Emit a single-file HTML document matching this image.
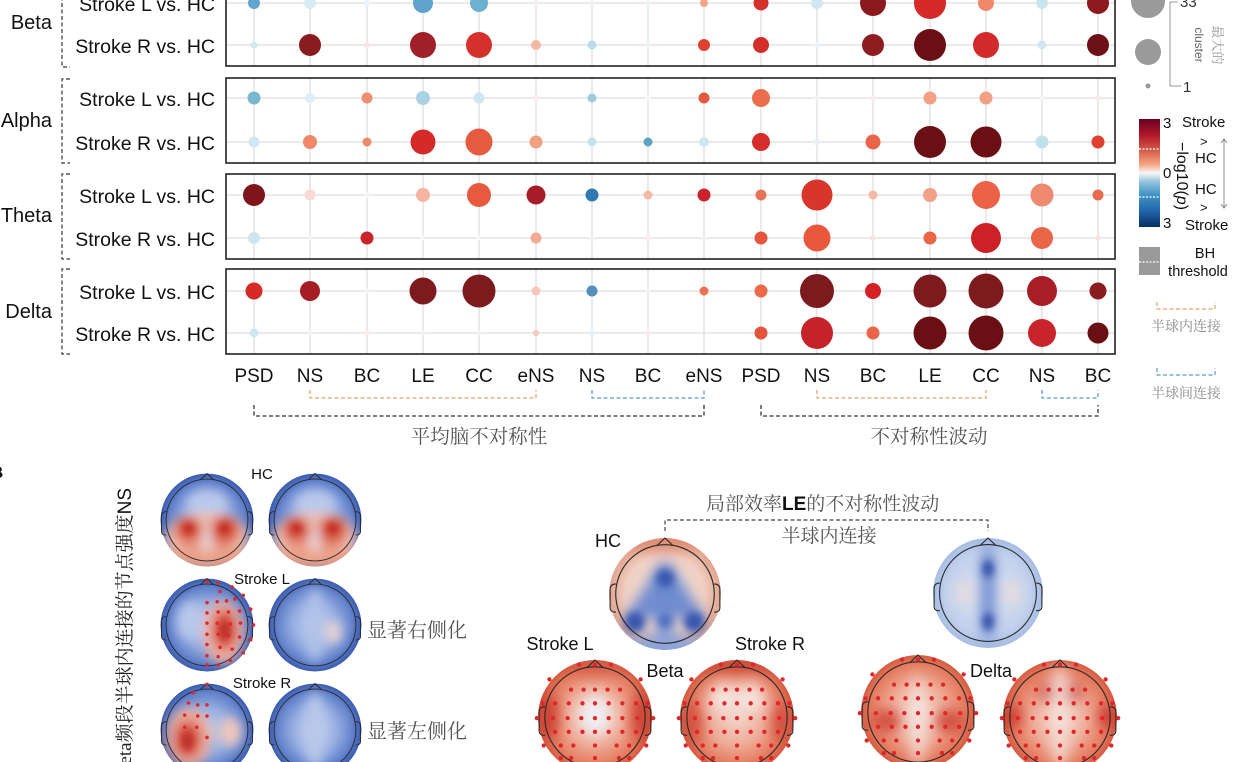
<!DOCTYPE html>
<html><head><meta charset="utf-8">
<style>
html,body{margin:0;padding:0;background:#fff;}
svg{display:block;}
text{font-family:"Liberation Sans","Noto Sans CJK SC",sans-serif;}
.cn{font-family:"Liberation Serif","Noto Serif CJK SC",serif;fill:#555;}
</style></head>
<body>
<svg width="1240" height="762" viewBox="0 0 1240 762" xmlns="http://www.w3.org/2000/svg">
<defs>
 <clipPath id="disc"><circle r="50"/></clipPath>
 <filter id="bl" x="-100%" y="-100%" width="300%" height="300%"><feGaussianBlur stdDeviation="6"/></filter>
 <filter id="bs" x="-100%" y="-100%" width="300%" height="300%"><feGaussianBlur stdDeviation="3.5"/></filter>
 <radialGradient id="gBlueL"><stop offset="0" stop-color="#c4d1ee"/><stop offset="0.5" stop-color="#93abe0"/><stop offset="0.8" stop-color="#6483cc"/><stop offset="1" stop-color="#3a5bb1"/></radialGradient>
 <radialGradient id="gPink"><stop offset="0" stop-color="#f4e3dc"/><stop offset="0.7" stop-color="#f0d0c3"/><stop offset="1" stop-color="#e3a48e"/></radialGradient>
 <radialGradient id="gRed"><stop offset="0" stop-color="#f3d5cb"/><stop offset="0.5" stop-color="#eeab96"/><stop offset="0.85" stop-color="#e47a5e"/><stop offset="1" stop-color="#d65a40"/></radialGradient>
 <radialGradient id="gBlueD"><stop offset="0" stop-color="#dde4f2"/><stop offset="0.75" stop-color="#c3d1ec"/><stop offset="1" stop-color="#a7bde4"/></radialGradient>
 <linearGradient id="cbar" x1="0" y1="0" x2="0" y2="1">
  <stop offset="0" stop-color="#67001f"/><stop offset="0.15" stop-color="#b2182b"/><stop offset="0.3" stop-color="#d6604d"/><stop offset="0.42" stop-color="#f4a582"/><stop offset="0.5" stop-color="#f7f7f7"/><stop offset="0.58" stop-color="#92c5de"/><stop offset="0.7" stop-color="#4393c3"/><stop offset="0.85" stop-color="#2166ac"/><stop offset="1" stop-color="#053061"/>
 </linearGradient>
 <g id="head" fill="none" stroke="#2a2a2a" stroke-width="1">
  <circle r="44"/>
  <path d="M-7,-43.4 L0,-50 L7,-43.4"/>
  <path d="M-43.8,-9 C-47,-9 -49,-7.5 -49,-4 L-49,12 C-49,15 -47,16.5 -43.8,16"/>
  <path d="M43.8,-9 C47,-9 49,-7.5 49,-4 L49,12 C49,15 47,16.5 43.8,16"/>
 </g>
 <g id="dots" fill="#e0262a">
  <circle cx="-14" cy="-46" r="1.9"/><circle cx="0" cy="-46" r="1.9"/><circle cx="14" cy="-46" r="1.9"/>
  <circle cx="-40" cy="-33" r="1.9"/><circle cx="40" cy="-33" r="1.9"/>
  <circle cx="-21" cy="-24" r="1.9"/><circle cx="-10" cy="-24" r="1.9"/><circle cx="0" cy="-24" r="1.9"/><circle cx="11" cy="-24" r="1.9"/><circle cx="22" cy="-24" r="1.9"/>
  <circle cx="-46" cy="-12" r="1.9"/><circle cx="-35" cy="-12" r="1.9"/><circle cx="-23" cy="-12" r="1.9"/><circle cx="-11" cy="-12" r="1.9"/><circle cx="0" cy="-12" r="1.9"/><circle cx="12" cy="-12" r="1.9"/><circle cx="24" cy="-12" r="1.9"/><circle cx="36" cy="-12" r="1.9"/><circle cx="46" cy="-12" r="1.9"/>
  <circle cx="-51" cy="1" r="1.9"/><circle cx="-37" cy="1" r="1.9"/><circle cx="-24" cy="1" r="1.9"/><circle cx="-12" cy="1" r="1.9"/><circle cx="0" cy="1" r="1.9"/><circle cx="12" cy="1" r="1.9"/><circle cx="24" cy="1" r="1.9"/><circle cx="37" cy="1" r="1.9"/><circle cx="51" cy="1" r="1.9"/>
  <circle cx="-35" cy="13" r="1.9"/><circle cx="-23" cy="13" r="1.9"/><circle cx="-11" cy="13" r="1.9"/><circle cx="0" cy="13" r="1.9"/><circle cx="12" cy="13" r="1.9"/><circle cx="24" cy="13" r="1.9"/><circle cx="36" cy="13" r="1.9"/>
  <circle cx="-45" cy="25" r="1.9"/><circle cx="-30" cy="25" r="1.9"/><circle cx="-19" cy="25" r="1.9"/><circle cx="0" cy="25" r="1.9"/><circle cx="19" cy="25" r="1.9"/><circle cx="30" cy="25" r="1.9"/><circle cx="45" cy="25" r="1.9"/>
  <circle cx="-30" cy="36" r="1.9"/><circle cx="-21" cy="36" r="1.9"/><circle cx="0" cy="36" r="1.9"/><circle cx="21" cy="36" r="1.9"/><circle cx="30" cy="36" r="1.9"/>
  <circle cx="-14" cy="46" r="1.9"/><circle cx="0" cy="46" r="1.9"/><circle cx="14" cy="46" r="1.9"/>
 </g>
</defs>

<!-- ===== Grid lines ===== -->
<path stroke="#e3e3e3" stroke-width="1.5" fill="none" d="M254,-10V354M310,-10V354M367,-10V354M423,-10V354M479,-10V354M536,-10V354M592,-10V354M648,-10V354M704,-10V354M761,-10V354M817,-10V354M873,-10V354M930,-10V354M986,-10V354M1042,-10V354M1098,-10V354"/>
<rect x="220" y="67" width="900" height="10" fill="#fff"/>
<rect x="220" y="164" width="900" height="9" fill="#fff"/>
<rect x="220" y="260" width="900" height="8" fill="#fff"/>
<path stroke="#e3e3e3" stroke-width="1.5" fill="none" d="M226,3H1115M226,45H1115M226,98H1115M226,142H1115M226,195H1115M226,238H1115M226,291H1115M226,333H1115"/>

<!-- ===== Bubbles ===== -->
<g>
<!-- Beta L -->
<circle cx="254" cy="3" r="6" fill="#5fa5cd"/><circle cx="310" cy="3" r="6" fill="#d6ebf4"/><circle cx="367" cy="3" r="3.5" fill="#eef5f9"/><circle cx="423" cy="3" r="10" fill="#5fa2cb"/><circle cx="479" cy="3" r="9" fill="#6cb1d0"/><circle cx="536" cy="3" r="3" fill="#f6eeee"/><circle cx="592" cy="3" r="3" fill="#eef5f9"/><circle cx="648" cy="3" r="3" fill="#eef5f9"/><circle cx="704" cy="3" r="4" fill="#f4a582"/><circle cx="761" cy="3" r="7.5" fill="#d6302d"/><circle cx="817" cy="3" r="6" fill="#d1e8f0"/><circle cx="873" cy="3" r="13" fill="#8b1a1e"/><circle cx="930" cy="3" r="16" fill="#d42a2a"/><circle cx="986" cy="3" r="8" fill="#f0866a"/><circle cx="1042" cy="3" r="6" fill="#c9e6ef"/><circle cx="1098" cy="3" r="11" fill="#8c1a1e"/>
<!-- Beta R -->
<circle cx="254" cy="45" r="3.5" fill="#d3e8f1"/><circle cx="310" cy="45" r="11" fill="#8a1c20"/><circle cx="367" cy="45" r="3" fill="#f9e6e6"/><circle cx="423" cy="45" r="13" fill="#a0202a"/><circle cx="479" cy="45" r="13" fill="#d6302d"/><circle cx="536" cy="45" r="5" fill="#f4b9a5"/><circle cx="592" cy="45" r="4.5" fill="#b9dde8"/><circle cx="648" cy="45" r="3" fill="#eef5f9"/><circle cx="704" cy="45" r="6" fill="#e0412f"/><circle cx="761" cy="45" r="8" fill="#d42d2a"/><circle cx="817" cy="45" r="3" fill="#eef5f9"/><circle cx="873" cy="45" r="11" fill="#8e1d22"/><circle cx="930" cy="45" r="16" fill="#6a1015"/><circle cx="986" cy="45" r="13" fill="#d2292a"/><circle cx="1042" cy="45" r="4.5" fill="#cfe8f0"/><circle cx="1098" cy="45" r="11" fill="#6b1117"/>
<!-- Alpha L -->
<circle cx="254" cy="98" r="6.5" fill="#7ab8d0"/><circle cx="310" cy="98" r="5" fill="#dceef6"/><circle cx="367" cy="98" r="5.5" fill="#ef8e6e"/><circle cx="423" cy="98" r="7" fill="#a9d3e2"/><circle cx="479" cy="98" r="5.5" fill="#cde6ef"/><circle cx="536" cy="98" r="3" fill="#faeceb"/><circle cx="592" cy="98" r="4.5" fill="#9fcad8"/><circle cx="648" cy="98" r="3" fill="#f6f6f8"/><circle cx="704" cy="98" r="5.5" fill="#e4583e"/><circle cx="761" cy="98" r="9" fill="#ea6d4e"/><circle cx="817" cy="98" r="3" fill="#f4f4f6"/><circle cx="873" cy="98" r="3" fill="#faeceb"/><circle cx="930" cy="98" r="6.5" fill="#f2a083"/><circle cx="986" cy="98" r="6.5" fill="#f2a083"/><circle cx="1042" cy="98" r="3" fill="#f4f4f6"/><circle cx="1098" cy="98" r="3" fill="#faeceb"/>
<!-- Alpha R -->
<circle cx="254" cy="142" r="5.5" fill="#cfe7f0"/><circle cx="310" cy="142" r="7" fill="#f0896b"/><circle cx="367" cy="142" r="4.5" fill="#ea8a6a"/><circle cx="423" cy="142" r="12.5" fill="#d42a2a"/><circle cx="479" cy="142" r="13.5" fill="#e55a40"/><circle cx="536" cy="142" r="6.5" fill="#f2a082"/><circle cx="592" cy="142" r="4.5" fill="#c4e2ea"/><circle cx="648" cy="142" r="4.5" fill="#5aa3c6"/><circle cx="704" cy="142" r="5" fill="#cfe8f0"/><circle cx="761" cy="142" r="9" fill="#d42d2a"/><circle cx="817" cy="142" r="3.5" fill="#e6f2f8"/><circle cx="873" cy="142" r="7.5" fill="#ea6447"/><circle cx="930" cy="142" r="16" fill="#6a1015"/><circle cx="986" cy="142" r="15.5" fill="#6a1015"/><circle cx="1042" cy="142" r="6.5" fill="#c0e2eb"/><circle cx="1098" cy="142" r="6.5" fill="#e0412f"/>
<!-- Theta L -->
<circle cx="254" cy="195" r="11" fill="#7e151c"/><circle cx="310" cy="195" r="5.5" fill="#fbd9d3"/><circle cx="367" cy="195" r="3" fill="#f4f5f7"/><circle cx="423" cy="195" r="7" fill="#f4b6a3"/><circle cx="479" cy="195" r="12" fill="#e85a3f"/><circle cx="536" cy="195" r="9.5" fill="#a71d27"/><circle cx="592" cy="195" r="6.5" fill="#2f78b4"/><circle cx="648" cy="195" r="4.5" fill="#f6b9a8"/><circle cx="704" cy="195" r="6.5" fill="#c9242b"/><circle cx="761" cy="195" r="5.5" fill="#e47559"/><circle cx="817" cy="195" r="15.5" fill="#d9362b"/><circle cx="873" cy="195" r="4.5" fill="#f5b8a5"/><circle cx="930" cy="195" r="7" fill="#f0a187"/><circle cx="986" cy="195" r="14" fill="#ec6246"/><circle cx="1042" cy="195" r="11.5" fill="#ee8a70"/><circle cx="1098" cy="195" r="5.5" fill="#e86a4c"/>
<!-- Theta R -->
<circle cx="254" cy="238" r="6" fill="#cde6f0"/><circle cx="310" cy="238" r="2" fill="#f4f4f6"/><circle cx="367" cy="238" r="6.5" fill="#c92429"/><circle cx="423" cy="238" r="2.5" fill="#f6f6f8"/><circle cx="479" cy="238" r="2.5" fill="#f6f6f8"/><circle cx="536" cy="238" r="5.5" fill="#f2ab92"/><circle cx="592" cy="238" r="2.5" fill="#f4f4f6"/><circle cx="648" cy="238" r="3" fill="#faeceb"/><circle cx="704" cy="238" r="2.5" fill="#eef5f9"/><circle cx="761" cy="238" r="6.5" fill="#e5553b"/><circle cx="817" cy="238" r="13.5" fill="#e9573d"/><circle cx="873" cy="238" r="3" fill="#f9e3df"/><circle cx="930" cy="238" r="6.5" fill="#ea6447"/><circle cx="986" cy="238" r="15" fill="#cc2226"/><circle cx="1042" cy="238" r="11" fill="#ea6447"/><circle cx="1098" cy="238" r="3" fill="#f9e3df"/>
<!-- Delta L -->
<circle cx="254" cy="291" r="8.5" fill="#d52b27"/><circle cx="310" cy="291" r="10" fill="#a61d24"/><circle cx="367" cy="291" r="2.5" fill="#f2f6f8"/><circle cx="423" cy="291" r="13.5" fill="#7d1a1e"/><circle cx="479" cy="291" r="16.5" fill="#7d1a1e"/><circle cx="536" cy="291" r="4.5" fill="#f7c6bb"/><circle cx="592" cy="291" r="5.5" fill="#4f90c0"/><circle cx="648" cy="291" r="2.5" fill="#f2f6f8"/><circle cx="704" cy="291" r="4.5" fill="#ea7050"/><circle cx="761" cy="291" r="6.5" fill="#ec6a4a"/><circle cx="817" cy="291" r="17" fill="#7d1a1e"/><circle cx="873" cy="291" r="8" fill="#d32126"/><circle cx="930" cy="291" r="16.5" fill="#7d1a1e"/><circle cx="986" cy="291" r="17.5" fill="#7d1a1e"/><circle cx="1042" cy="291" r="15" fill="#a91e26"/><circle cx="1098" cy="291" r="8.5" fill="#8b1c20"/>
<!-- Delta R -->
<circle cx="254" cy="333" r="4.5" fill="#cfe6ef"/><circle cx="310" cy="333" r="2.5" fill="#f4f4f6"/><circle cx="367" cy="333" r="3" fill="#faeceb"/><circle cx="423" cy="333" r="2.5" fill="#f4f4f6"/><circle cx="479" cy="333" r="2.5" fill="#f4f4f6"/><circle cx="536" cy="333" r="3" fill="#f5c6bb"/><circle cx="592" cy="333" r="3" fill="#e6f2f8"/><circle cx="648" cy="333" r="3" fill="#faeceb"/><circle cx="761" cy="333" r="6.5" fill="#e5553b"/><circle cx="817" cy="333" r="16" fill="#c5222a"/><circle cx="873" cy="333" r="6.5" fill="#ea6447"/><circle cx="930" cy="333" r="16.5" fill="#6a1015"/><circle cx="986" cy="333" r="17.5" fill="#6a1015"/><circle cx="1042" cy="333" r="14" fill="#c92429"/><circle cx="1098" cy="333" r="10.5" fill="#6a1015"/>
</g>

<!-- ===== Panel borders ===== -->
<g fill="none" stroke="#222" stroke-width="1.6">
 <rect x="226" y="-10" width="889" height="76"/>
 <rect x="226" y="78" width="889" height="85"/>
 <rect x="226" y="174" width="889" height="85"/>
 <rect x="226" y="269" width="889" height="85"/>
</g>

<!-- ===== Left brackets & labels ===== -->
<g fill="none" stroke="#555" stroke-width="1.4" stroke-dasharray="4,2.5">
 <path d="M62,-10V67H70"/>
 <path d="M70,79H62V163H70"/>
 <path d="M70,174H62V259H70"/>
 <path d="M70,269H62V354H70"/>
</g>
<g font-size="20" fill="#111" text-anchor="end">
 <text x="52" y="29">Beta</text>
 <text x="52" y="127">Alpha</text>
 <text x="52" y="222">Theta</text>
 <text x="52" y="318">Delta</text>
</g>
<g font-size="19.5" fill="#111" text-anchor="end">
 <text x="215" y="11">Stroke L vs. HC</text>
 <text x="215" y="53">Stroke R vs. HC</text>
 <text x="215" y="106">Stroke L vs. HC</text>
 <text x="215" y="150">Stroke R vs. HC</text>
 <text x="215" y="203">Stroke L vs. HC</text>
 <text x="215" y="246">Stroke R vs. HC</text>
 <text x="215" y="299">Stroke L vs. HC</text>
 <text x="215" y="341">Stroke R vs. HC</text>
</g>

<!-- ===== X tick labels ===== -->
<g font-size="19" fill="#111" text-anchor="middle">
 <text x="254" y="382">PSD</text><text x="310" y="382">NS</text><text x="367" y="382">BC</text><text x="423" y="382">LE</text><text x="479" y="382">CC</text><text x="536" y="382">eNS</text><text x="592" y="382">NS</text><text x="648" y="382">BC</text><text x="704" y="382">eNS</text><text x="761" y="382">PSD</text><text x="817" y="382">NS</text><text x="873" y="382">BC</text><text x="930" y="382">LE</text><text x="986" y="382">CC</text><text x="1042" y="382">NS</text><text x="1098" y="382">BC</text>
</g>
<g fill="none" stroke-width="1.3" stroke-dasharray="4,2.5">
 <path d="M310,390V398H536V390" stroke="#e8a36a"/>
 <path d="M592,390V398H704V390" stroke="#5b9bd0"/>
 <path d="M254,405V416H704V405" stroke="#333"/>
 <path d="M817,390V398H986V390" stroke="#e8a36a"/>
 <path d="M1042,390V398H1098V390" stroke="#5b9bd0"/>
 <path d="M761,405V416H1098V405" stroke="#333"/>
</g>
<text class="cn" x="479" y="443" font-size="19.5" text-anchor="middle">平均脑不对称性</text>
<text class="cn" x="929" y="443" font-size="19.5" text-anchor="middle">不对称性波动</text>

<!-- ===== Legend ===== -->
<circle cx="1148" cy="1" r="17" fill="#9a9a9a"/>
<circle cx="1148" cy="52" r="13" fill="#9a9a9a"/>
<circle cx="1148" cy="86" r="2.5" fill="#9a9a9a"/>
<path d="M1178,2H1170V86H1181" fill="none" stroke="#999" stroke-width="1"/>
<text x="1180" y="7" font-size="15" fill="#333">33</text>
<text x="1183" y="92" font-size="15" fill="#333">1</text>
<text transform="translate(1195,45) rotate(90)" font-size="12" fill="#666" text-anchor="middle">cluster</text>
<text class="cn" transform="translate(1213,45) rotate(90)" font-size="13" text-anchor="middle" style="fill:#999">最大的</text>

<rect x="1139" y="119" width="21" height="108" fill="url(#cbar)"/>
<path d="M1139,149H1160M1139,197H1160" stroke="#fff" stroke-width="1.2" stroke-dasharray="2,1.5"/>
<g font-size="15" fill="#111">
 <text x="1163" y="128">3</text>
 <text x="1163" y="178">0</text>
 <text x="1163" y="228">3</text>
 <text x="1182" y="127">Stroke</text>
 <text x="1200" y="146" font-size="13">&gt;</text>
 <text x="1195" y="163">HC</text>
 <text x="1195" y="194">HC</text>
 <text x="1200" y="212" font-size="13">&gt;</text>
 <text x="1185" y="230">Stroke</text>
</g>
<text transform="translate(1177,176) rotate(90)" font-size="16" fill="#111" text-anchor="middle">−log10(<tspan font-style="italic">p</tspan>)</text>
<g stroke="#888" stroke-width="1" fill="none">
 <path d="M1224,139V208"/>
 <path d="M1221,143L1224,139L1227,143"/>
 <path d="M1221,204L1224,208L1227,204"/>
</g>
<rect x="1139" y="247" width="21" height="28" fill="#9a9a9a"/>
<path d="M1139,262H1160" stroke="#fff" stroke-width="1.2" stroke-dasharray="2,1.5"/>
<text x="1205" y="258" font-size="14.5" fill="#111" text-anchor="middle">BH</text>
<text x="1198" y="276" font-size="14.5" fill="#111" text-anchor="middle">threshold</text>
<g fill="none" stroke-width="1.2" stroke-dasharray="4,2.5">
 <path d="M1157,302V309H1215V302" stroke="#e8a36a"/>
 <path d="M1157,368V375H1215V368" stroke="#5b9bd0"/>
</g>
<text class="cn" x="1186" y="331" font-size="14" text-anchor="middle" style="fill:#888">半球内连接</text>
<text class="cn" x="1186" y="398" font-size="14" text-anchor="middle" style="fill:#888">半球间连接</text>

<!-- ===== Panel B left ===== -->
<text x="-9" y="478" font-size="17" font-weight="bold" fill="#111">B</text>
<text class="cn" transform="translate(131,488) rotate(-90)" font-size="19" text-anchor="end" style="fill:#222">Beta频段半球内连接的节点强度<tspan font-family="Liberation Sans" style="fill:#111">NS</tspan></text>

<!-- HC left -->
<g transform="translate(207,520) scale(0.93)">
 <g clip-path="url(#disc)">
  <circle r="50" fill="url(#gBlueL)"/>
  <g filter="url(#bl)">
   <ellipse cx="0" cy="-18" rx="22" ry="14" fill="#b9c9ec"/>
   <ellipse cx="0" cy="20" rx="46" ry="28" fill="#f0c2b2"/>
   <ellipse cx="0" cy="40" rx="46" ry="14" fill="#eba088"/>
   <ellipse cx="-20" cy="11" rx="16" ry="15" fill="#d9604a"/>
   <ellipse cx="19" cy="11" rx="17" ry="16" fill="#d9604a"/>
   <ellipse cx="0" cy="20" rx="4" ry="16" fill="#e8e0ea"/>
  </g>
  <circle cx="-20" cy="9" r="6" fill="#c22e28" filter="url(#bs)"/>
  <circle cx="19" cy="9" r="6.5" fill="#c22e28" filter="url(#bs)"/>
 </g>
 <use href="#head"/>
</g>
<g transform="translate(315,520) scale(0.93)">
 <g clip-path="url(#disc)">
  <circle r="50" fill="url(#gBlueL)"/>
  <g filter="url(#bl)">
   <ellipse cx="0" cy="-18" rx="22" ry="14" fill="#b9c9ec"/>
   <ellipse cx="0" cy="20" rx="46" ry="28" fill="#f0c2b2"/>
   <ellipse cx="0" cy="40" rx="46" ry="14" fill="#eba088"/>
   <ellipse cx="-20" cy="11" rx="16" ry="15" fill="#d9604a"/>
   <ellipse cx="19" cy="11" rx="17" ry="16" fill="#d9604a"/>
   <ellipse cx="0" cy="20" rx="4" ry="16" fill="#e8e0ea"/>
  </g>
  <circle cx="-20" cy="9" r="6" fill="#c22e28" filter="url(#bs)"/>
  <circle cx="19" cy="9" r="6.5" fill="#c22e28" filter="url(#bs)"/>
 </g>
 <use href="#head"/>
</g>
<!-- Stroke L left -->
<g transform="translate(207,625) scale(0.93)">
 <g clip-path="url(#disc)">
  <circle r="50" fill="url(#gBlueL)"/>
  <g filter="url(#bl)">
   <ellipse cx="-18" cy="-5" rx="14" ry="20" fill="#b8c8ec"/>
   <ellipse cx="18" cy="8" rx="22" ry="34" fill="#eeb0a0"/>
   <ellipse cx="19" cy="5" rx="13" ry="22" fill="#d44a3a"/>
  </g>
  <ellipse cx="19" cy="6" rx="6" ry="10" fill="#c0302a" filter="url(#bs)"/>
 </g>
 <use href="#head"/>
 <g fill="#e0262a">
  <circle cx="0" cy="-47" r="1.9"/><circle cx="12" cy="-45" r="1.9"/><circle cx="27" cy="-41" r="1.9"/><circle cx="14" cy="-36" r="1.9"/><circle cx="39" cy="-32" r="1.9"/>
  <circle cx="0" cy="-24" r="1.9"/><circle cx="11" cy="-25" r="1.9"/><circle cx="21" cy="-26" r="1.9"/><circle cx="30" cy="-28" r="1.9"/><circle cx="47" cy="-17" r="1.9"/>
  <circle cx="0" cy="-13" r="1.9"/><circle cx="12" cy="-14" r="1.9"/><circle cx="23" cy="-14" r="1.9"/><circle cx="35" cy="-15" r="1.9"/><circle cx="50" cy="0" r="1.9"/>
  <circle cx="0" cy="-2" r="1.9"/><circle cx="11" cy="-2" r="1.9"/><circle cx="25" cy="-1" r="1.9"/><circle cx="36" cy="-2" r="1.9"/>
  <circle cx="0" cy="10" r="1.9"/><circle cx="12" cy="10" r="1.9"/><circle cx="23" cy="11" r="1.9"/><circle cx="35" cy="13" r="1.9"/><circle cx="47" cy="16" r="1.9"/>
  <circle cx="0" cy="21" r="1.9"/><circle cx="14" cy="24" r="1.9"/><circle cx="27" cy="26" r="1.9"/><circle cx="39" cy="30" r="1.9"/>
  <circle cx="0" cy="33" r="1.9"/><circle cx="12" cy="34" r="1.9"/><circle cx="25" cy="38" r="1.9"/><circle cx="0" cy="43" r="1.9"/><circle cx="12" cy="43" r="1.9"/>
 </g>
</g>
<g transform="translate(315,625) scale(0.93)">
 <g clip-path="url(#disc)">
  <circle r="50" fill="url(#gBlueL)"/>
  <g filter="url(#bl)">
   <ellipse cx="0" cy="0" rx="10" ry="40" fill="#b0c2e8"/>
   <ellipse cx="20" cy="8" rx="8" ry="12" fill="#f0d6d0"/>
  </g>
 </g>
 <use href="#head"/>
</g>
<!-- Stroke R left -->
<g transform="translate(207,730) scale(0.93)">
 <g clip-path="url(#disc)">
  <circle r="50" fill="url(#gBlueL)"/>
  <g filter="url(#bl)">
   <ellipse cx="-20" cy="8" rx="24" ry="32" fill="#eeaa98"/>
   <ellipse cx="-21" cy="10" rx="14" ry="20" fill="#d0463a"/>
   <ellipse cx="25" cy="2" rx="12" ry="16" fill="#f0c8bc"/>
  </g>
  <ellipse cx="-21" cy="12" rx="6" ry="9" fill="#c0302a" filter="url(#bs)"/>
 </g>
 <use href="#head"/>
 <g fill="#e0262a">
  <circle cx="0" cy="-49" r="1.9"/><circle cx="-15" cy="-40" r="1.9"/><circle cx="-20" cy="-29" r="1.9"/><circle cx="-10" cy="-27" r="1.9"/><circle cx="0" cy="-27" r="1.9"/>
  <circle cx="-24" cy="-16" r="1.9"/><circle cx="-10" cy="-15" r="1.9"/><circle cx="0" cy="-15" r="1.9"/><circle cx="-24" cy="-3" r="1.9"/><circle cx="-11" cy="-3" r="1.9"/><circle cx="0" cy="8" r="1.9"/>
 </g>
</g>
<g transform="translate(315,730) scale(0.93)">
 <g clip-path="url(#disc)">
  <circle r="50" fill="url(#gBlueL)"/>
  <ellipse cx="0" cy="0" rx="12" ry="40" fill="#b8c8ea" filter="url(#bl)"/>
 </g>
 <use href="#head"/>
</g>
<g font-size="15" fill="#111" text-anchor="middle">
 <text x="262" y="479">HC</text>
 <text x="262" y="584">Stroke L</text>
 <text x="262" y="688">Stroke R</text>
</g>
<text class="cn" x="367" y="637" font-size="20">显著右侧化</text>
<text class="cn" x="367" y="738" font-size="20">显著左侧化</text>

<!-- ===== Panel B right ===== -->
<text class="cn" x="706" y="510" font-size="19">局部效率<tspan font-family="Liberation Sans" font-weight="bold" style="fill:#111">LE</tspan>的不对称性波动</text>
<path d="M665,531V520H988V531" fill="none" stroke="#444" stroke-width="1.2" stroke-dasharray="4,2.5"/>
<text class="cn" x="829" y="542" font-size="19" text-anchor="middle">半球内连接</text>

<!-- Beta HC -->
<g transform="translate(665,594) scale(1.12)">
 <g clip-path="url(#disc)">
  <circle r="50" fill="url(#gPink)"/>
  <g filter="url(#bl)">
   <ellipse cx="0" cy="-48" rx="40" ry="9" fill="#e08a72"/>
   <ellipse cx="0" cy="48" rx="44" ry="12" fill="#8ba4dc"/>
   <path d="M0,-22 L-28,24 M0,-22 L28,24 M0,-22 L0,30 M-24,14 L24,14" stroke="#6d8ad0" stroke-width="14" fill="none" stroke-linecap="round"/>
  </g>
  <g filter="url(#bs)">
   <circle cx="0" cy="-14" r="8" fill="#3757ad"/>
   <circle cx="-27" cy="25" r="9" fill="#3757ad"/>
   <circle cx="26" cy="25" r="9" fill="#3757ad"/>
   <circle cx="0" cy="24" r="6" fill="#4a6cbe"/>
  </g>
 </g>
 <use href="#head"/>
</g>
<!-- Beta Stroke L -->
<g transform="translate(595,717) scale(1.14)">
 <g clip-path="url(#disc)">
  <circle r="50" fill="url(#gRed)"/>
  <g filter="url(#bl)">
   <ellipse cx="-42" cy="0" rx="10" ry="22" fill="#cc4232"/>
   <ellipse cx="42" cy="0" rx="10" ry="22" fill="#cc4232"/>
   <ellipse cx="0" cy="-46" rx="30" ry="8" fill="#d45a44"/>
   <ellipse cx="0" cy="-2" rx="14" ry="18" fill="#eeeef2"/>
  </g>
 </g>
 <use href="#head"/>
 <use href="#dots"/>
</g>
<!-- Beta Stroke R -->
<g transform="translate(737,717) scale(1.14)">
 <g clip-path="url(#disc)">
  <circle r="50" fill="url(#gRed)"/>
  <g filter="url(#bl)">
   <ellipse cx="0" cy="-46" rx="34" ry="8" fill="#cf4e3a"/>
   <ellipse cx="-40" cy="5" rx="9" ry="20" fill="#d2503d"/>
   <ellipse cx="40" cy="5" rx="9" ry="20" fill="#d2503d"/>
   <ellipse cx="-12" cy="-16" rx="12" ry="13" fill="#f6e4de"/>
   <ellipse cx="12" cy="-16" rx="12" ry="13" fill="#f6e4de"/>
  </g>
 </g>
 <use href="#head"/>
 <use href="#dots"/>
</g>
<!-- Delta HC -->
<g transform="translate(988,593) scale(1.1)">
 <g clip-path="url(#disc)">
  <circle r="50" fill="url(#gBlueD)"/>
  <g filter="url(#bl)">
   <ellipse cx="0" cy="0" rx="7" ry="46" fill="#6f8cd0"/>
   <ellipse cx="-22" cy="0" rx="6" ry="10" fill="#f0ddd6"/>
   <ellipse cx="22" cy="0" rx="6" ry="10" fill="#f0ddd6"/>
  </g>
  <g filter="url(#bs)">
   <ellipse cx="0" cy="-22" rx="5" ry="8" fill="#3050a8"/>
   <ellipse cx="0" cy="26" rx="5" ry="8" fill="#3050a8"/>
  </g>
 </g>
 <use href="#head"/>
</g>
<!-- Delta Stroke L -->
<g transform="translate(918,712) scale(1.14)">
 <g clip-path="url(#disc)">
  <circle r="50" fill="url(#gRed)"/>
  <g filter="url(#bl)">
   <ellipse cx="-28" cy="8" rx="13" ry="10" fill="#d0483a"/>
   <ellipse cx="28" cy="8" rx="13" ry="10" fill="#d0483a"/>
   <ellipse cx="0" cy="8" rx="6" ry="40" fill="#f5e6e2"/>
  </g>
 </g>
 <use href="#head"/>
 <use href="#dots"/>
</g>
<!-- Delta Stroke R -->
<g transform="translate(1060,717) scale(1.14)">
 <g clip-path="url(#disc)">
  <circle r="50" fill="url(#gRed)"/>
  <g filter="url(#bl)">
   <ellipse cx="0" cy="0" rx="8" ry="46" fill="#f5ddd5"/>
   <ellipse cx="-42" cy="0" rx="8" ry="10" fill="#c9302a"/>
   <ellipse cx="42" cy="0" rx="8" ry="10" fill="#c9302a"/>
   <ellipse cx="-12" cy="-22" rx="6" ry="9" fill="#c83a30"/>
   <ellipse cx="12" cy="-22" rx="6" ry="9" fill="#c83a30"/>
  </g>
 </g>
 <use href="#head"/>
 <use href="#dots"/>
</g>
<g font-size="18" fill="#111" text-anchor="middle">
 <text x="608" y="547">HC</text>
 <text x="560" y="650">Stroke L</text>
 <text x="770" y="650">Stroke R</text>
 <text x="665" y="677">Beta</text>
 <text x="991" y="677">Delta</text>
</g>
</svg>
</body></html>
